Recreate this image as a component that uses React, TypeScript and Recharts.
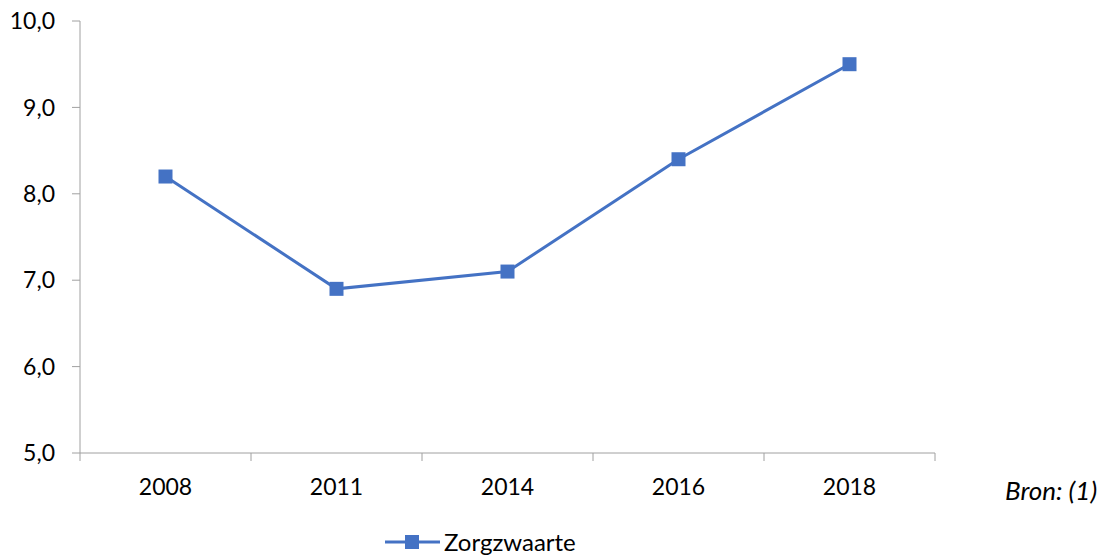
import { LineChart, Line, XAxis, YAxis } from 'recharts';

const categories = ['2008', '2011', '2014', '2016', '2018'];
const zorgzwaarte = [8.2, 6.9, 7.1, 8.4, 9.5];
const yTicks = [5, 6, 7, 8, 9, 10];

const data = categories.map((jaar, i) => ({ jaar, zorgzwaarte: zorgzwaarte[i] }));

const W = 1114;
const H = 556;
const margin = { top: 21, right: 179, bottom: 63, left: 0 };
const yAxisWidth = 80;
const xAxisHeight = 40;
const bandWidth = (W - margin.left - margin.right - yAxisWidth) / categories.length;

const axisColor = '#a0a0a0';
const lineColor = '#4472C4';
const font = 'Lato, "Open Sans", sans-serif';

const fmt = (v: number) => v.toFixed(1).replace('.', ',');

function XTick(props: any) {
    const { x, y, payload, index } = props;
    const left = x - bandWidth / 2;
    return (
        <g>
            <line x1={left} x2={left} y1={y} y2={y + 8} stroke={axisColor} />
            {index === categories.length - 1 && (
                <line x1={x + bandWidth / 2} x2={x + bandWidth / 2} y1={y} y2={y + 8} stroke={axisColor} />
            )}
            <text x={x} y={y + 42} textAnchor="middle" fontSize={23} fill="#000" fontFamily={font}>
                {payload.value}
            </text>
        </g>
    );
}

function SquareDot(props: any) {
    const { cx, cy } = props;
    if (cx == null || cy == null) return null;
    return <rect x={cx - 7} y={cy - 7} width={14} height={14} fill={lineColor} />;
}

export default function App() {
    return (
        <div style={{ position: 'absolute', left: 0, top: 0, width: W, height: H, background: '#fff', fontFamily: font }}>
            <LineChart width={W} height={H} data={data} margin={margin}>
                <XAxis
                    dataKey="jaar"
                    height={xAxisHeight}
                    stroke={axisColor}
                    tickLine={false}
                    tickSize={0}
                    tickMargin={0}
                    interval={0}
                    padding={{ left: bandWidth / 2, right: bandWidth / 2 }}
                    tick={<XTick />}
                />
                <YAxis
                    width={yAxisWidth}
                    domain={[5, 10]}
                    ticks={yTicks}
                    tickFormatter={fmt}
                    stroke={axisColor}
                    tickSize={8}
                    tickMargin={17}
                    tick={{ fontSize: 23, fill: '#000', fontFamily: font }}
                />
                <Line
                    dataKey="zorgzwaarte"
                    stroke={lineColor}
                    strokeWidth={3}
                    dot={<SquareDot />}
                    activeDot={false}
                    isAnimationActive={false}
                />
            </LineChart>
            <div style={{ position: 'absolute', left: 1005, top: 474, fontSize: 26, fontStyle: 'italic', color: '#000', whiteSpace: 'nowrap' }}>
                Bron: (1)
            </div>
            <div style={{ position: 'absolute', left: 385, top: 527, display: 'flex', alignItems: 'center', fontSize: 24, color: '#000' }}>
                <svg width={55} height={16} style={{ marginRight: 4 }}>
                    <line x1={0} x2={55} y1={8} y2={8} stroke={lineColor} strokeWidth={3} />
                    <rect x={20} y={1} width={14} height={14} fill={lineColor} />
                </svg>
                <span>Zorgzwaarte</span>
            </div>
        </div>
    );
}
